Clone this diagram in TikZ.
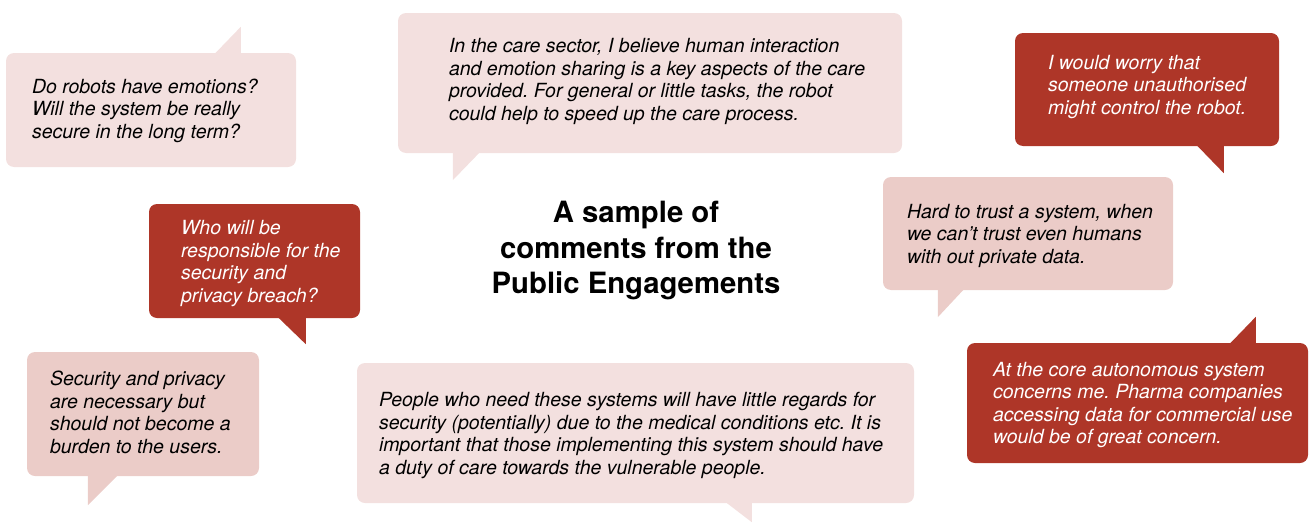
\documentclass[tikz,border=0pt]{standalone}
\usepackage{fontspec}
\setmainfont{TeX Gyre Heros}
\frenchspacing
\definecolor{pinklight}{RGB}{243,224,223}
\definecolor{pinkmid}{RGB}{235,204,200}
\definecolor{redbox}{RGB}{174,54,40}
\begin{document}
\begin{tikzpicture}[x=1pt,y=-1pt,
  boxshape/.style={rectangle, rounded corners=8pt, inner sep=0pt, anchor=center},
  light/.style={boxshape, fill=pinklight},
  mid/.style={boxshape, fill=pinkmid},
  dark/.style={boxshape, fill=redbox},
  saytext/.style={anchor=west, inner sep=0pt, align=left, font=\fontsize{19.5}{22.5}\selectfont\itshape\frenchspacing},
  darktext/.style={saytext, text=white},
  lighttext/.style={saytext, text=black},
  titletext/.style={align=center, inner sep=0pt, font=\fontsize{29.3}{35.5}\selectfont\bfseries}
]
\path[use as bounding box] (0,0) rectangle (1309,522);

% A
\node[light, minimum width=290pt, minimum height=114pt] (a) at (151,110) {};
\fill[pinklight] ([xshift=206pt,yshift=-4pt]a.north west) -- ([xshift=235pt,yshift=26pt]a.north west) -- ([xshift=235pt,yshift=-4pt]a.north west) -- cycle;
\node[lighttext] (at) at ([xshift=26pt,yshift=-0.5pt]a.west) {Do robots have emotions?\\Will the system be really\\secure in the long term?};

% B
\node[light, minimum width=504pt, minimum height=140pt] (b) at (650,83) {};
\fill[pinklight] ([xshift=55pt,yshift=4pt]b.south west) -- ([xshift=55pt,yshift=-27pt]b.south west) -- ([xshift=85pt,yshift=4pt]b.south west) -- cycle;
\node[lighttext] (bt) at ([xshift=51pt,yshift=1.5pt]b.west) {In the care sector, I believe human interaction\\and emotion sharing is a key aspects of the care\\provided. For general or little tasks, the robot\\could help to speed up the care process.};

% C
\node[dark, minimum width=264pt, minimum height=113pt] (c) at (1147,89.5) {};
\fill[redbox] ([xshift=179pt,yshift=4pt]c.south west) -- ([xshift=209pt,yshift=-27pt]c.south west) -- ([xshift=209pt,yshift=4pt]c.south west) -- cycle;
\node[darktext] (ct) at ([xshift=33pt,yshift=2.5pt]c.west) {I would worry that\\someone unauthorised\\might control the robot.};

% D
\node[dark, minimum width=211pt, minimum height=114pt] (d) at (254.5,261) {};
\fill[redbox] ([xshift=126pt,yshift=4pt]d.south west) -- ([xshift=157pt,yshift=-26pt]d.south west) -- ([xshift=157pt,yshift=4pt]d.south west) -- cycle;
\node[darktext] (dt) at ([xshift=32pt,yshift=-2.5pt]d.west) {Who will be\\responsible for the\\security and\\privacy breach?};

% E
\node[mid, minimum width=290pt, minimum height=113pt] (e) at (1028,233.5) {};
\fill[pinkmid] ([xshift=55pt,yshift=4pt]e.south west) -- ([xshift=55pt,yshift=-27pt]e.south west) -- ([xshift=84pt,yshift=4pt]e.south west) -- cycle;
\node[lighttext] (et) at ([xshift=24pt,yshift=-2pt]e.west) {Hard to trust a system, when\\we can’t trust even humans\\with out private data.};

% F
\node[dark, minimum width=341pt, minimum height=120pt] (f) at (1137.5,403) {};
\fill[redbox] ([xshift=260pt,yshift=-4pt]f.north west) -- ([xshift=289pt,yshift=26pt]f.north west) -- ([xshift=289pt,yshift=-4pt]f.north west) -- cycle;
\node[darktext] (ft) at ([xshift=26pt,yshift=-2pt]f.west) {At the core autonomous system\\concerns me. Pharma companies\\accessing data for commercial use\\would be of great concern.};

% G
\node[mid, minimum width=232pt, minimum height=124pt] (g) at (143,414) {};
\fill[pinkmid] ([xshift=61pt,yshift=4pt]g.south west) -- ([xshift=61pt,yshift=-29pt]g.south west) -- ([xshift=94pt,yshift=4pt]g.south west) -- cycle;
\node[lighttext] (gt) at ([xshift=23pt,yshift=1.5pt]g.west) {Security and privacy\\are necessary but\\should not become a\\burden to the users.};

% H
\node[light, minimum width=557pt, minimum height=140pt] (h) at (635.5,433) {};
\fill[pinklight] ([xshift=365pt,yshift=4pt]h.south west) -- ([xshift=395pt,yshift=-19pt]h.south west) -- ([xshift=395pt,yshift=4pt]h.south west) -- cycle;
\node[lighttext] (ht) at ([xshift=22pt,yshift=-2.5pt]h.west) {People who need these systems will have little regards for\\security (potentially) due to the medical conditions etc. It is\\important that those implementing this system should have\\a duty of care towards the vulnerable people.};

% Title
\node[titletext] (title) at (636,251) {A sample of\\comments from the\\Public Engagements};
\end{tikzpicture}
\end{document}
